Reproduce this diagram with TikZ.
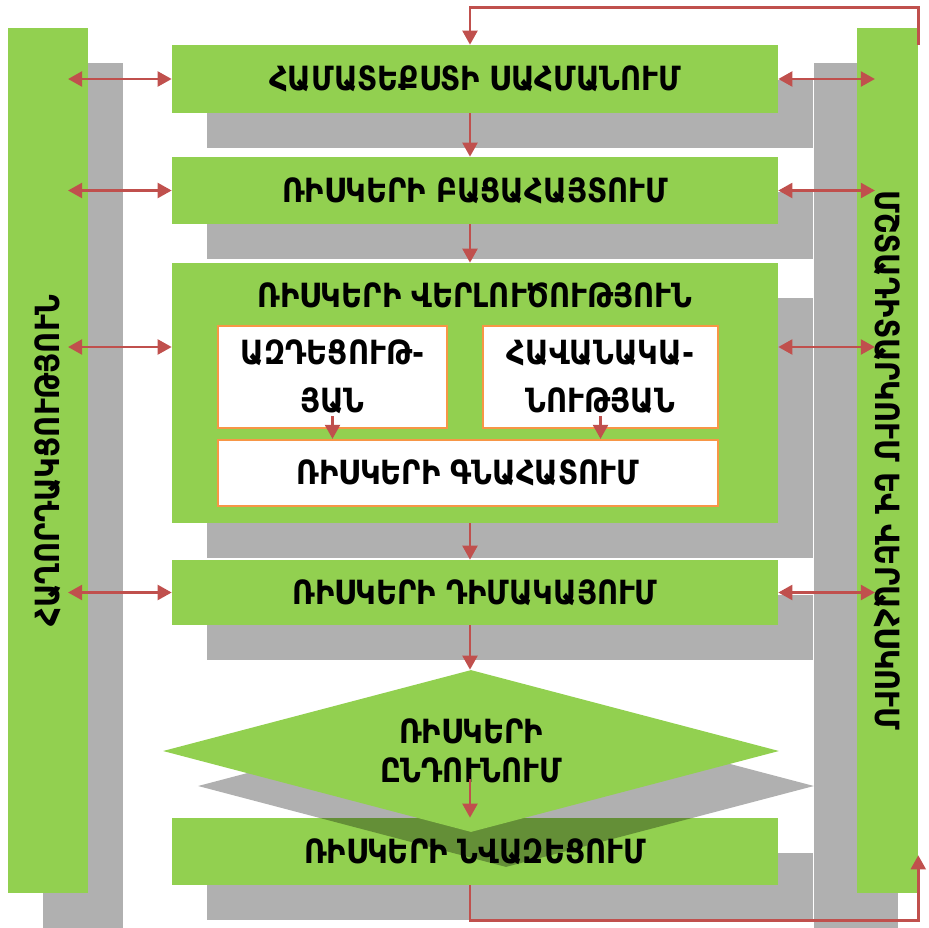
\documentclass[tikz,border=0pt]{standalone}
\usepackage{fontspec}
\setmainfont{DejaVu Sans}[FakeStretch=0.87]
\usepackage{tikz}
\usetikzlibrary{arrows.meta,shapes.geometric,shadows}
\definecolor{leaf}{HTML}{92D050}
\definecolor{brick}{HTML}{C0504D}
\definecolor{peach}{HTML}{F79646}
\newcommand{\armtext}{\fontsize{25}{30}\selectfont\bfseries}
\tikzset{
  greyshadow/.style={drop shadow={shadow xshift=26.25pt,shadow yshift=-26.25pt,
    fill=black,opacity=0.31}},
  barshade/.style={fill=black,opacity=0.31},
  stagebox/.style={rectangle,fill=leaf,minimum width=454.5pt,inner sep=0pt,
    font=\armtext,greyshadow},
  sidebar/.style={rectangle,fill=leaf,minimum height=648.75pt,inner sep=0pt,
    font=\armtext},
  innerbox/.style={rectangle,draw=peach,fill=white,line width=1.6pt,
    minimum height=76.5pt,inner sep=0pt,align=center,
    font=\fontsize{25}{36}\selectfont\bfseries},
  decision/.style={diamond,fill=leaf,minimum width=462pt,minimum height=121.5pt,
    shape aspect=3.8,inner sep=0pt,align=center,
    font=\fontsize{25}{29}\selectfont\bfseries,greyshadow},
  flowarrow/.style={-{Triangle[length=10.5pt,width=11pt]},line width=2.2pt,color=brick},
  twoway/.style={{Triangle[length=10.5pt,width=11pt]}-{Triangle[length=10.5pt,width=11pt]},
    line width=2.2pt,color=brick},
}
\begin{document}
\begin{tikzpicture}[x=0.75pt,y=-0.75pt]
  \useasboundingbox (0,0) rectangle (929,928);
  \node[sidebar,minimum width=60pt,greyshadow] (comm) at (48,460.5)
    {\rotatebox{90}{ՀԱՂՈՐԴԱԿՑՈՒԹՅՈՒՆ}};
  \path (887.5,460.5) coordinate (monc);
  \fill[barshade] ([xshift=-55.5pt,yshift=-26.25pt]monc |- comm.north)
    rectangle ([xshift=7.5pt,yshift=-26.25pt]monc |- comm.south);
  \node[sidebar,minimum width=45.75pt] (mon) at (monc)
    {\rotatebox{-90}{ՄՇՏԱԴԻՏԱՐԿՈՒՄ ԵՎ ՎԵՐԱՀՍԿՈՒՄ}};
  \node[stagebox,minimum height=51pt] (ctx) at (475,79) {ՀԱՄԱՏԵՔՍՏԻ ՍԱՀՄԱՆՈՒՄ};
  \node[stagebox,minimum height=50.25pt] (idt) at (475,190.5) {ՌԻՍԿԵՐԻ ԲԱՑԱՀԱՅՏՈՒՄ};
  \node[stagebox,minimum height=195pt] (ana) at (475,393) {};
  \node[font=\armtext] (anatitle) at (475,295) {ՌԻՍԿԵՐԻ ՎԵՐԼՈՒԾՈՒԹՅՈՒՆ};
  \node[innerbox,minimum width=171.75pt] (imp) at (332.5,377) {ԱԶԴԵՑՈՒԹ-\\ՅԱՆ};
  \node[innerbox,minimum width=176.25pt] (prb) at (600.5,377) {ՀԱՎԱՆԱԿԱ-\\ՆՈՒԹՅԱՆ};
  \node[innerbox,minimum width=375pt,minimum height=49.5pt] (est) at (468,473)
    {ՌԻՍԿԵՐԻ ԳՆԱՀԱՏՈՒՄ};
  \node[stagebox,minimum height=48.75pt] (trt) at (475,592.5) {ՌԻՍԿԵՐԻ ԴԻՄԱԿԱՅՈՒՄ};
  \node[stagebox,minimum height=50.25pt] (red) at (475,851.5) {ՌԻՍԿԵՐԻ ՆՎԱԶԵՑՈՒՄ};
  \node[decision] (acc) at (471,751) {ՌԻՍԿԵՐԻ\\ԸՆԴՈՒՆՈՒՄ};

  \coordinate (spine) at (470,0);
  \draw[flowarrow] (spine |- ctx.south) -- (spine |- idt.north);
  \draw[flowarrow] (spine |- idt.south) -- (spine |- ana.north);
  \draw[flowarrow] (spine |- ana.south) -- (spine |- trt.north);
  \draw[flowarrow] (spine |- trt.south) -- (spine |- acc.north);
  \draw[flowarrow] ([yshift=-21pt]spine |- acc.center) -- (spine |- red.north);
  \draw[flowarrow] ([yshift=9.75pt]imp.south) -- (imp.south |- est.north);
  \draw[flowarrow] ([yshift=9.75pt]prb.south) -- (prb.south |- est.north);

  \coordinate (lhit) at ([xshift=15pt]comm.center);
  \coordinate (rhit) at ([xshift=-9.4pt]mon.center);
  \coordinate (anaL) at ([yshift=34.5pt]ana.west);
  \coordinate (anaR) at ([yshift=34.5pt]ana.east);
  \foreach \a/\b in {ctx.west/ctx.east,idt.west/idt.east,anaL/anaR,trt.west/trt.east}{
    \draw[twoway] (lhit |- \a) -- (\a);
    \draw[twoway] (\b) -- (rhit |- \b);
  }

  \coordinate (fbtop) at ([yshift=-12.75pt]mon.north east);
  \coordinate (fbend) at ([yshift=28.5pt]mon.south east);
  \draw[flowarrow] (fbtop) |- ([yshift=27.75pt]spine |- ctx.north) -- (spine |- ctx.north);
  \draw[flowarrow] (spine |- red.south) -- ++(0,35) -| (fbend);
\end{tikzpicture}
\end{document}
